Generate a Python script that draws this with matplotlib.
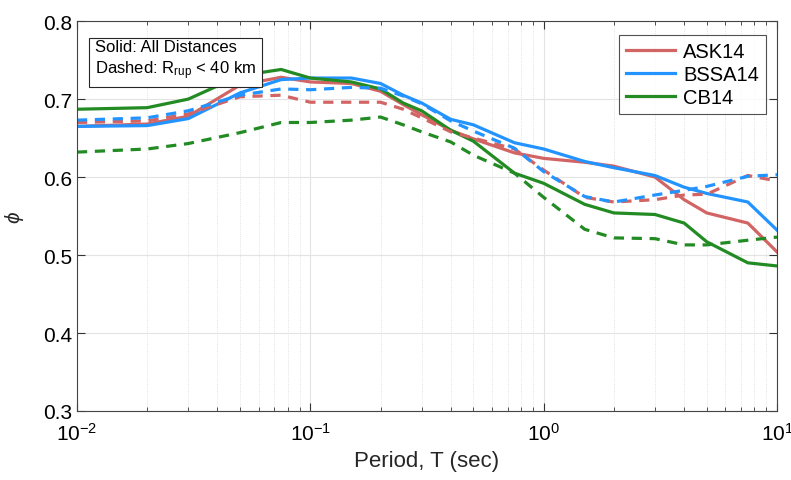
import matplotlib
matplotlib.use('Agg')
import matplotlib.pyplot as plt
from matplotlib.ticker import LogLocator, NullFormatter, MultipleLocator

plt.rcParams['font.family'] = ['Liberation Sans', 'DejaVu Sans']
plt.rcParams['mathtext.fontset'] = 'custom'
plt.rcParams['mathtext.rm'] = 'Liberation Sans'
plt.rcParams['mathtext.it'] = 'Liberation Sans:italic'
plt.rcParams['mathtext.fallback'] = 'cm'

# spectral periods (sec)
periods = [0.01, 0.02, 0.03, 0.05, 0.075, 0.1, 0.15, 0.2, 0.25, 0.3, 0.4,
           0.5, 0.75, 1.0, 1.5, 2.0, 3.0, 4.0, 5.0, 7.5, 10.0]

# solid: all distances
ask14_all = [0.665, 0.668, 0.678, 0.718, 0.728, 0.722, 0.720, 0.710, 0.693, 0.680, 0.660,
             0.649, 0.631, 0.624, 0.619, 0.614, 0.600, 0.571, 0.554, 0.541, 0.504]
bssa14_all = [0.665, 0.666, 0.675, 0.708, 0.725, 0.727, 0.727, 0.720, 0.705, 0.695, 0.674,
              0.667, 0.644, 0.636, 0.620, 0.612, 0.602, 0.587, 0.579, 0.568, 0.532]
cb14_all = [0.687, 0.689, 0.700, 0.730, 0.738, 0.727, 0.722, 0.713, 0.695, 0.685, 0.660,
            0.646, 0.605, 0.592, 0.565, 0.554, 0.552, 0.541, 0.517, 0.490, 0.486]

# dashed: Rrup < 40 km
ask14_near = [0.670, 0.672, 0.681, 0.703, 0.705, 0.696, 0.696, 0.696, 0.687, 0.676, 0.658,
              0.650, 0.636, 0.609, 0.574, 0.568, 0.571, 0.577, 0.578, 0.602, 0.595]
bssa14_near = [0.673, 0.676, 0.685, 0.705, 0.713, 0.712, 0.715, 0.714, 0.704, 0.694, 0.672,
               0.659, 0.637, 0.607, 0.575, 0.568, 0.577, 0.583, 0.588, 0.601, 0.603]
cb14_near = [0.632, 0.636, 0.643, 0.657, 0.670, 0.670, 0.673, 0.677, 0.667, 0.658, 0.645,
             0.628, 0.605, 0.574, 0.533, 0.522, 0.521, 0.513, 0.513, 0.519, 0.523]

models = ['ASK14', 'BSSA14', 'CB14']
colors = ['#D26464', '#2394FF', '#238B23']

fig = plt.figure(figsize=(7.91, 4.81), dpi=100)
ax = fig.add_axes([0.0973, 0.1435, 0.8850, 0.8105])

all_sets = [ask14_all, bssa14_all, cb14_all]
near_sets = [ask14_near, bssa14_near, cb14_near]

lines = []
for name, col, vals in zip(models, colors, all_sets):
    ln, = ax.plot(periods, vals, color=col, lw=2.3, label=name)
    lines.append(ln)
for col, vals in zip(colors, near_sets):
    ax.plot(periods, vals, color=col, lw=2.3, ls=(0, (3.2, 2.4)))

ax.set_xscale('log')
ax.set_xlim(0.01, 10)
ax.set_ylim(0.3, 0.8)
ax.yaxis.set_major_locator(MultipleLocator(0.1))
ax.xaxis.set_minor_locator(LogLocator(base=10, subs=range(2, 10)))
ax.xaxis.set_minor_formatter(NullFormatter())

ax.grid(True, which='major', color='#e3e3e3', lw=0.8)
ax.grid(True, which='minor', axis='x', color='#d8d8d8', lw=0.6, ls=':')
ax.set_axisbelow(True)

ax.tick_params(which='both', direction='in', top=True, right=True,
               labelsize=15, color='#333333')
ax.tick_params(which='major', length=6, width=0.8)
ax.tick_params(which='minor', length=3, width=0.6)
ax.tick_params(axis='x', pad=8)
for s in ax.spines.values():
    s.set_color('#444444')
    s.set_linewidth(0.8)

ax.set_xlabel('Period, T (sec)', fontsize=16, color='#262626')
ax.set_ylabel(r'$\phi$', fontsize=15, color='#262626', labelpad=12)

leg = ax.legend(handles=lines, loc='upper right', fontsize=14.5, frameon=True,
                fancybox=False, edgecolor='#262626', handlelength=2.4,
                handletextpad=0.4, borderpad=0.35, labelspacing=0.2,
                borderaxespad=0, bbox_to_anchor=(0.984, 0.964))
leg.get_frame().set_linewidth(0.8)

ax.text(0.026, 0.955, 'Solid: All Distances\nDashed: R$_{\\rm rup}$ < 40 km',
        transform=ax.transAxes, fontsize=12, va='top', ha='left',
        linespacing=1.3,
        bbox=dict(boxstyle='square,pad=0.35', facecolor='white',
                  edgecolor='#262626', linewidth=0.8))

fig.savefig('out.png', dpi=100)
